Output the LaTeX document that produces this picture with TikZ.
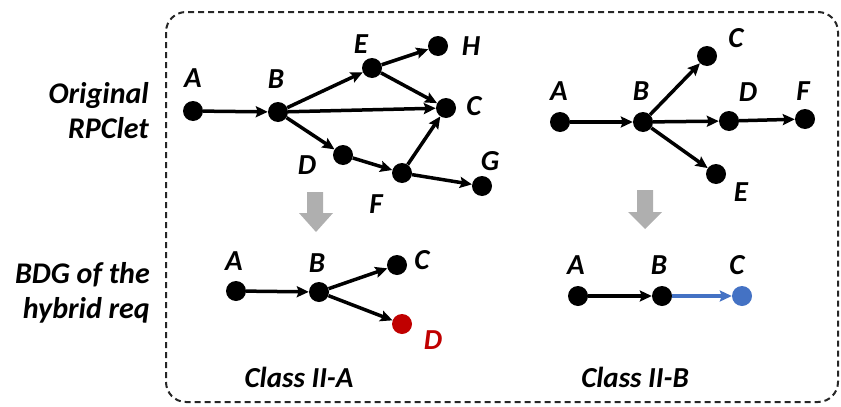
\documentclass[tikz,border=0pt]{standalone}
\usepackage{fontspec}
\setmainfont{Carlito}
\usetikzlibrary{arrows.meta}
\definecolor{myred}{HTML}{C00000}
\definecolor{myblue}{HTML}{4472C4}
\definecolor{mygray}{HTML}{AFAFAF}
\tikzset{
  vtx/.style={circle,fill=black,minimum size=20pt,inner sep=0pt},
  lbl/.style={font=\fontsize{29}{30}\selectfont\bfseries\itshape,inner sep=0pt},
  txt/.style={font=\fontsize{30}{35}\selectfont\bfseries\itshape,inner sep=0pt,align=right,anchor=east},
  edge/.style={line width=3.5pt,-{Stealth[length=12pt,width=11pt,inset=2pt]}},
  bigarrow/.style={fill=mygray,draw=none}
}
\begin{document}
\begin{tikzpicture}[x=1pt,y=-1pt]
\useasboundingbox (0,0) rectangle (841,407);
\draw[dash pattern=on 6pt off 4pt,line width=2pt,rounded corners=20pt,color=black!85] (166,12) rectangle (838,402);
% side texts
\node[txt] (t1) at (149,111) {Original\\RPClet};
\node[txt] (t2) at (150,293) {BDG of the\\hybrid req};
% top-left graph
\node[vtx] (lA) at (193,111) {};
\node[vtx] (lB) at (278,112) {};
\node[vtx] (lE) at (372,68) {};
\node[vtx] (lH) at (438,46) {};
\node[vtx] (lC) at (446,108) {};
\node[vtx] (lD) at (343,155) {};
\node[vtx] (lF) at (402,173) {};
\node[vtx] (lG) at (482,186) {};
\node[lbl] (llA) at (193,78) {A};
\node[lbl] (llB) at (276,79) {B};
\node[lbl] (llE) at (361,44) {E};
\node[lbl] (llH) at (471,46) {H};
\node[lbl] (llC) at (474,106) {C};
\node[lbl] (llD) at (307,165) {D};
\node[lbl] (llF) at (376,204) {F};
\node[lbl] (llG) at (490,161) {G};
\draw[edge] (lA) -- (lB);
\draw[edge] (lB) -- (lE);
\draw[edge] (lB) -- (lC);
\draw[edge] (lB) -- (lD);
\draw[edge] (lE) -- (lH);
\draw[edge] (lE) -- (lC);
\draw[edge] (lD) -- (lF);
\draw[edge] (lF) -- (lC);
\draw[edge] (lF) -- (lG);
% top-right graph
\node[vtx] (rA) at (560,122) {};
\node[vtx] (rB) at (643,122) {};
\node[vtx] (rC) at (707,56) {};
\node[vtx] (rD) at (729,121) {};
\node[vtx] (rF) at (805,119) {};
\node[vtx] (rE) at (716,174) {};
\node[lbl] (rlA) at (559,91) {A};
\node[lbl] (rlB) at (641,91) {B};
\node[lbl] (rlC) at (736,38) {C};
\node[lbl] (rlD) at (748,92) {D};
\node[lbl] (rlF) at (803,91) {F};
\node[lbl] (rlE) at (741,192) {E};
\draw[edge] (rA) -- (rB);
\draw[edge] (rB) -- (rC);
\draw[edge] (rB) -- (rD);
\draw[edge] (rB) -- (rE);
\draw[edge] (rD) -- (rF);
% gray arrows
\fill[bigarrow] (307,192) -- (323,192) -- (323,213) -- (333,213) -- (316,232) -- (299,213) -- (307,213) -- cycle;
\fill[bigarrow] (637,190) -- (653,190) -- (653,212) -- (662,212) -- (645,229) -- (628,212) -- (637,212) -- cycle;
% bottom-left graph
\node[vtx] (bA) at (236,291) {};
\node[vtx] (bB) at (319,292) {};
\node[vtx] (bC) at (397,265) {};
\node[vtx,fill=myred] (bD) at (402,324) {};
\node[lbl] (blA) at (234,261) {A};
\node[lbl] (blB) at (317,263) {B};
\node[lbl] (blC) at (422,260) {C};
\node[lbl,text=myred] (blD) at (433,340) {D};
\draw[edge] (bA) -- (bB);
\draw[edge] (bB) -- (bC);
\draw[edge] (bB) -- (bD);
\node[lbl] (cA) at (299,377) {Class II-A};
% bottom-right graph
\node[vtx] (cA1) at (578,296) {};
\node[vtx] (cB1) at (662,296) {};
\node[vtx,fill=myblue] (cC1) at (742,296) {};
\node[lbl] (clA) at (576,265) {A};
\node[lbl] (clB) at (659,265) {B};
\node[lbl] (clC) at (737,265) {C};
\draw[edge] (cA1) -- (cB1);
\draw[edge,color=myblue] (cB1) -- (cC1);
\node[lbl] (cB) at (635,377) {Class II-B};
\end{tikzpicture}
\end{document}
